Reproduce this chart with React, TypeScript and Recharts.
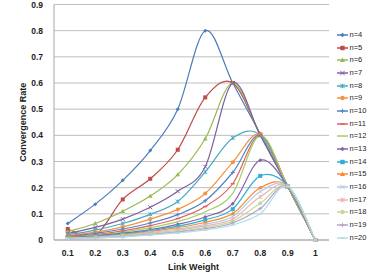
import React from 'react'
import { LineChart, Line, XAxis, YAxis, CartesianGrid, Label } from 'recharts'

const linkWeights = [0.1, 0.2, 0.3, 0.4, 0.5, 0.6, 0.7, 0.8, 0.9, 1]
const yTicks = [0, 0.1, 0.2, 0.3, 0.4, 0.5, 0.6, 0.7, 0.8, 0.9]

const n4 = [0.063, 0.137, 0.228, 0.342, 0.5, 0.8, 0.6, 0.405, 0.205, 0]
const n5 = [0.042, 0.018, 0.155, 0.234, 0.345, 0.545, 0.6, 0.403, 0.205, 0]
const n6 = [0.032, 0.063, 0.11, 0.168, 0.25, 0.387, 0.6, 0.4, 0.205, 0]
const n7 = [0.025, 0.048, 0.08, 0.125, 0.186, 0.28, 0.6, 0.4, 0.205, 0]
const n8 = [0.02, 0.038, 0.063, 0.098, 0.147, 0.26, 0.39, 0.4, 0.205, 0]
const n9 = [0.017, 0.03, 0.05, 0.08, 0.117, 0.178, 0.297, 0.403, 0.205, 0]
const n10 = [0.014, 0.025, 0.042, 0.065, 0.097, 0.15, 0.258, 0.4, 0.205, 0]
const n11 = [0.012, 0.021, 0.035, 0.055, 0.082, 0.128, 0.215, 0.4, 0.205, 0]
const n12 = [0.01, 0.018, 0.03, 0.047, 0.07, 0.108, 0.178, 0.4, 0.205, 0]
const n13 = [0.009, 0.016, 0.026, 0.04, 0.06, 0.088, 0.139, 0.305, 0.205, 0]
const n14 = [0.008, 0.014, 0.023, 0.036, 0.053, 0.077, 0.118, 0.245, 0.205, 0]
const n15 = [0.007, 0.012, 0.02, 0.032, 0.047, 0.068, 0.101, 0.2, 0.205, 0]
const n16 = [0.006, 0.011, 0.018, 0.029, 0.042, 0.06, 0.09, 0.185, 0.205, 0]
const n17 = [0.005, 0.01, 0.016, 0.026, 0.037, 0.054, 0.08, 0.165, 0.205, 0]
const n18 = [0.005, 0.009, 0.015, 0.023, 0.033, 0.048, 0.072, 0.14, 0.205, 0]
const n19 = [0.004, 0.008, 0.013, 0.021, 0.03, 0.043, 0.065, 0.12, 0.205, 0]
const n20 = [0.004, 0.007, 0.012, 0.019, 0.027, 0.039, 0.058, 0.1, 0.205, 0]

const seriesNames = ['n=4', 'n=5', 'n=6', 'n=7', 'n=8', 'n=9', 'n=10', 'n=11', 'n=12', 'n=13', 'n=14', 'n=15', 'n=16', 'n=17', 'n=18', 'n=19', 'n=20']
const seriesValues = [n4, n5, n6, n7, n8, n9, n10, n11, n12, n13, n14, n15, n16, n17, n18, n19, n20]

const colors = [
  '#4A7EBB', '#BE4B48', '#98B954', '#7D60A0', '#46AAC5', '#F69240',
  '#4F86C6', '#E0615E', '#A5CF64', '#8463AC', '#2FAFD2', '#F88A2C',
  '#B6CBE6', '#E8B4B3', '#C4D99E', '#B5A4CA', '#B5DCE8',
]
const markers = ['diamond', 'square', 'triangle', 'x', 'star', 'circle', 'plus', 'dash', 'none']

const FONT = '"Liberation Sans", Arial, sans-serif'

const chartData = linkWeights.map((x, i) => {
  const row: Record<string, number> = { x }
  seriesNames.forEach((name, s) => { row[name] = seriesValues[s][i] })
  return row
})

// Excel-like smoothed line (Catmull-Rom as cubic bezier)
function excelSmooth(context: any) {
  let pts: number[][] = []
  return {
    areaStart() {},
    areaEnd() {},
    lineStart() { pts = [] },
    point(x: number, y: number) { pts.push([+x, +y]) },
    lineEnd() {
      if (!pts.length) return
      context.moveTo(pts[0][0], pts[0][1])
      for (let i = 0; i < pts.length - 1; i++) {
        const p0 = pts[i - 1] || pts[i]
        const p1 = pts[i]
        const p2 = pts[i + 1]
        const p3 = pts[i + 2] || p2
        context.bezierCurveTo(
          p1[0] + (p2[0] - p0[0]) / 6, p1[1] + (p2[1] - p0[1]) / 6,
          p2[0] - (p3[0] - p1[0]) / 6, p2[1] - (p3[1] - p1[1]) / 6,
          p2[0], p2[1],
        )
      }
    },
  }
}

function Marker({ cx, cy, kind, color, s = 2 }: { cx: number; cy: number; kind: string; color: string; s?: number }) {
  switch (kind) {
    case 'diamond':
      return <polygon points={`${cx},${cy - s} ${cx + s},${cy} ${cx},${cy + s} ${cx - s},${cy}`} fill={color} />
    case 'square':
      return <rect x={cx - s} y={cy - s} width={s * 2} height={s * 2} fill={color} />
    case 'triangle':
      return <polygon points={`${cx},${cy - s - 0.4} ${cx + s + 0.3},${cy + s - 0.3} ${cx - s - 0.3},${cy + s - 0.3}`} fill={color} />
    case 'x':
      return <path d={`M${cx - s},${cy - s}L${cx + s},${cy + s}M${cx - s},${cy + s}L${cx + s},${cy - s}`} stroke={color} strokeWidth={1} />
    case 'star':
      return <path d={`M${cx - s},${cy - s}L${cx + s},${cy + s}M${cx - s},${cy + s}L${cx + s},${cy - s}M${cx},${cy - s}L${cx},${cy + s}`} stroke={color} strokeWidth={1} />
    case 'circle':
      return <circle cx={cx} cy={cy} r={s} fill={color} />
    case 'plus':
      return <path d={`M${cx - s},${cy}L${cx + s},${cy}M${cx},${cy - s}L${cx},${cy + s}`} stroke={color} strokeWidth={1} />
    case 'dash':
      return <path d={`M${cx - s},${cy}L${cx + s},${cy}`} stroke={color} strokeWidth={1.5} />
    default:
      return <g />
  }
}

const fmtX = (v: number) => (v === 1 ? '1' : v.toFixed(1))
const fmtY = (v: number) => (v === 0 ? '0' : v.toFixed(1))

export default function App() {
  const tickStyle = { fontSize: 8.5, fontWeight: 700, fill: '#222', fontFamily: FONT }
  return (
    <div style={{ position: 'absolute', left: 0, top: 0, width: 382, height: 273, background: '#fff' }}>
      <LineChart width={382} height={273} data={chartData} margin={{ top: 4.5, right: 53, bottom: 0, left: 0 }}>
        <CartesianGrid stroke="#BEBEBE" vertical={false} />
        <XAxis
          dataKey="x"
          type="number"
          domain={[0.05, 1.05]}
          ticks={linkWeights}
          tickFormatter={fmtX}
          height={33}
          stroke="#A6A6A6"
          tickLine={false}
          tickSize={6}
          tickMargin={4}
          tick={tickStyle}
          interval={0}
        >
          <Label
            content={({ viewBox }: any) => (
              <text x={viewBox.x + viewBox.width / 2 + 2} y={viewBox.y + 30} textAnchor="middle"
                fontSize={9} fontWeight={700} fill="#222" fontFamily={FONT}>Link Weight</text>
            )}
          />
        </XAxis>
        <YAxis
          type="number"
          domain={[0, 0.9]}
          ticks={yTicks}
          tickFormatter={fmtY}
          width={54}
          stroke="#A6A6A6"
          tickLine={false}
          tickSize={6}
          tickMargin={5}
          tick={tickStyle}
          interval={0}
        >
          <Label
            content={({ viewBox }: any) => {
              const cx = viewBox.x + 23
              const cy = viewBox.y + viewBox.height / 2
              return (
                <text x={cx} y={cy} transform={`rotate(-90 ${cx} ${cy})`} textAnchor="middle" dominantBaseline="central"
                  fontSize={9} fontWeight={700} fill="#222" fontFamily={FONT}>Convergence Rate</text>
              )
            }}
          />
        </YAxis>
        {seriesNames.map((name, s) => (
          <Line
            key={name}
            dataKey={name}
            type={excelSmooth as any}
            stroke={colors[s]}
            strokeWidth={1.2}
            isAnimationActive={false}
            dot={(p: any) => (
              <Marker key={`${name}-${p.index}`} cx={p.cx} cy={p.cy} kind={markers[s % markers.length]} color={colors[s]} />
            )}
            activeDot={false}
          />
        ))}
      </LineChart>
      <div style={{ position: 'absolute', left: 336, top: 28.5, fontFamily: FONT, fontSize: 7.5, color: '#222' }}>
        {seriesNames.map((name, s) => (
          <div key={name} style={{ height: 12.7, display: 'flex', alignItems: 'center' }}>
            <svg width={13} height={8} style={{ display: 'block' }}>
              <line x1={1} y1={4} x2={12} y2={4} stroke={colors[s]} strokeWidth={1.5} />
              <Marker cx={6.5} cy={4} kind={markers[s % markers.length]} color={colors[s]} s={2.2} />
            </svg>
            <span style={{ marginLeft: 0.5, lineHeight: '8px' }}>{name}</span>
          </div>
        ))}
      </div>
    </div>
  )
}
